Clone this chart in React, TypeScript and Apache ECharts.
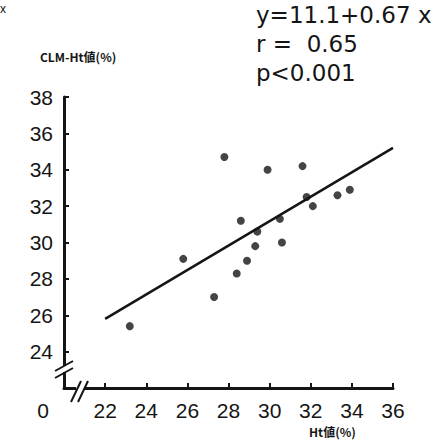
import React, { useEffect, useRef } from "react";
import * as echarts from "echarts";

// Ht値 (%) on x, CLM-Ht値 (%) on y
const htValues = [27.8, 29.9, 31.6, 33.3, 33.9, 31.8, 32.1, 28.6, 30.5, 29.4, 29.3, 30.6, 28.9, 28.4, 27.3, 25.8, 23.2];
const clmValues = [34.7, 34.0, 34.2, 32.6, 32.9, 32.5, 32.0, 31.2, 31.3, 30.6, 29.8, 30.0, 29.0, 28.3, 27.0, 29.1, 25.4];
// regression line end points: y = 11.1 + 0.67x
const lineX = [22, 36];
const lineY = [25.8, 35.2];
const annotations = ["y=11.1+0.67 x", "r =  0.65", "p<0.001"];
const xAxisTitle = "Ht値(%)";
const yAxisTitle = "CLM-Ht値(%)";

export default function App() {
  const ref = useRef<HTMLDivElement>(null);
  useEffect(() => {
    if (!ref.current) return;
    const chart = echarts.init(ref.current, null, { renderer: "svg" });
    const ink = "#151515";
    const tickFont = { fontFamily: "Liberation Sans", fontSize: 21, color: ink };
    chart.setOption({
      animation: false,
      backgroundColor: "#ffffff",
      grid: { left: 64, right: 53, top: 97, bottom: 57 },
      xAxis: {
        type: "value",
        min: 20,
        max: 36,
        interval: 2,
        splitLine: { show: false },
        axisLine: { show: true, lineStyle: { color: ink, width: 3 } },
        axisTick: { show: true, inside: true, length: 5, lineStyle: { color: ink, width: 2 } },
        axisLabel: {
          ...tickFont,
          margin: 12,
          formatter: (v: number) => (v === 20 ? "" : String(v)),
        },
      },
      yAxis: {
        type: "value",
        min: 22,
        max: 38,
        interval: 2,
        splitLine: { show: false },
        axisLine: { show: true, lineStyle: { color: ink, width: 3 } },
        axisTick: { show: true, inside: true, length: 5, lineStyle: { color: ink, width: 2 } },
        axisLabel: {
          ...tickFont,
          margin: 11,
          formatter: (v: number) => (v === 22 ? "" : String(v)),
        },
      },
      series: [
        {
          type: "line",
          data: lineX.map((x, i) => [x, lineY[i]]),
          showSymbol: false,
          lineStyle: { color: ink, width: 2.5 },
          z: 2,
        },
        {
          type: "scatter",
          data: htValues.map((x, i) => [x, clmValues[i]]),
          symbol: "circle",
          symbolSize: 8,
          itemStyle: { color: ink },
          z: 3,
        },
      ],
      graphic: [
        ...annotations.map((t, i) => ({
          type: "text",
          left: 256,
          top: 3 + i * 29,
          style: { text: t, fontFamily: "DejaVu Sans", fontSize: 23, fill: ink },
        })),
        {
          type: "text",
          left: 40,
          top: 50,
          style: { text: yAxisTitle, fontFamily: "Noto Sans CJK JP", fontSize: 12, fontWeight: "bold", fill: ink },
        },
        {
          type: "text",
          left: 309,
          top: 425,
          style: { text: xAxisTitle, fontFamily: "Noto Sans CJK JP", fontSize: 12, fontWeight: "bold", fill: ink },
        },
        {
          type: "text",
          x: 43,
          y: 410,
          style: { text: "0", fontFamily: "Liberation Sans", fontSize: 21, fill: ink, align: "center", verticalAlign: "middle" },
        },
        {
          type: "text",
          x: 0,
          y: 3,
          style: { text: "x", fontFamily: "Liberation Sans", fontSize: 12, fill: ink },
        },
        // y-axis break
        { type: "rect", shape: { x: 60, y: 366, width: 8, height: 6 }, style: { fill: "#fff" }, z: 100 },
        { type: "line", shape: { x1: 55, y1: 371, x2: 73, y2: 361 }, style: { stroke: ink, lineWidth: 2 }, z: 101 },
        { type: "line", shape: { x1: 55, y1: 378, x2: 73, y2: 368 }, style: { stroke: ink, lineWidth: 2 }, z: 101 },
        // x-axis break
        { type: "rect", shape: { x: 76, y: 384, width: 8, height: 8 }, style: { fill: "#fff" }, z: 100 },
        { type: "line", shape: { x1: 71, y1: 402, x2: 81, y2: 381 }, style: { stroke: ink, lineWidth: 2 }, z: 101 },
        { type: "line", shape: { x1: 78, y1: 402, x2: 88, y2: 381 }, style: { stroke: ink, lineWidth: 2 }, z: 101 },
      ],
    });
    return () => chart.dispose();
  }, []);
  return (
    <div
      ref={ref}
      style={{ position: "fixed", left: 0, top: 0, width: 446, height: 445 }}
    />
  );
}
